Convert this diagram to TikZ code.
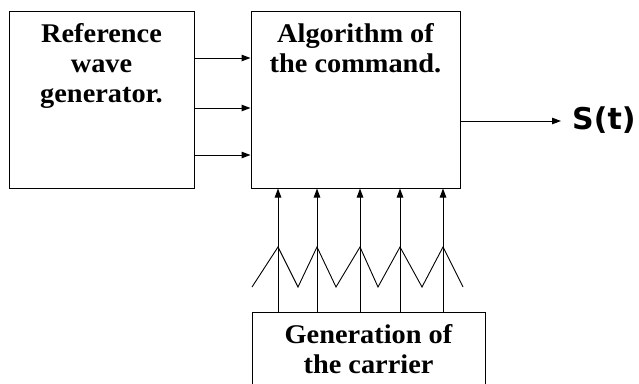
\documentclass[tikz,border=0pt]{standalone}
\usepackage{fontspec}
\setmainfont[FakeStretch=1.05]{Liberation Serif}
\newfontfamily\symfont{DejaVu Sans}
\usetikzlibrary{arrows.meta}
\tikzset{
  blk/.style={draw, line width=1pt, inner sep=0pt, minimum height=177pt},
  lbl/.style={anchor=north, align=center, inner sep=0pt,
    font=\fontsize{27pt}{30pt}\selectfont\bfseries},
  arr/.style={line width=1pt, -{Triangle[length=9pt,width=6.5pt]}},
  wire/.style={line width=0.9pt},
}
\begin{document}
\begin{tikzpicture}[x=1pt,y=-1pt]
\useasboundingbox (0,0) rectangle (639,383);
\clip (0,0) rectangle (639,383);
% blocks
\node[blk, minimum width=185pt] (ref) at (101.5,99.5) {};
\node[blk, minimum width=209pt] (mid) at (355.5,99.5) {};
\node[blk, minimum width=233pt, minimum height=100pt] (car) at (368.5,362) {};
% block titles
\node[lbl] (reft) at ([yshift=-13pt]ref.north) {Reference\\wave\\generator.};
\node[lbl] (midt) at ([yshift=-13pt]mid.north) {Algorithm of\\the command.};
\node[lbl] (cart) at ([yshift=-13pt]car.north) {Generation of\\the carrier};
% reference signals into the command block
\foreach \i/\yy in {1/58,2/108,3/155}{
  \coordinate (r\i) at (0,\yy);
  \draw[arr] (ref.east |- r\i) -- (mid.west |- r\i);
}
% carrier signals into the command block
\foreach \i/\xx in {1/278,2/317,3/360,4/400,5/443}{
  \coordinate (c\i) at (\xx,0);
  \draw[arr] (car.north -| c\i) -- (mid.south -| c\i);
}
% triangular carrier wave
\draw[wire] (252,287) -- (278,247) -- (298,287) -- (317,247) -- (336,287)
  -- (360,247) -- (378,287) -- (400,247) -- (422,287) -- (443,247) -- (463,287);
% output
\node[anchor=west, inner sep=0pt, font=\symfont\fontsize{30pt}{30pt}\selectfont\bfseries] (out) at (572,120) {S(t)};
\coordinate (oend) at (561,0);
\draw[arr] (mid.east |- 0,121) -- (oend |- 0,121);
\end{tikzpicture}
\end{document}
